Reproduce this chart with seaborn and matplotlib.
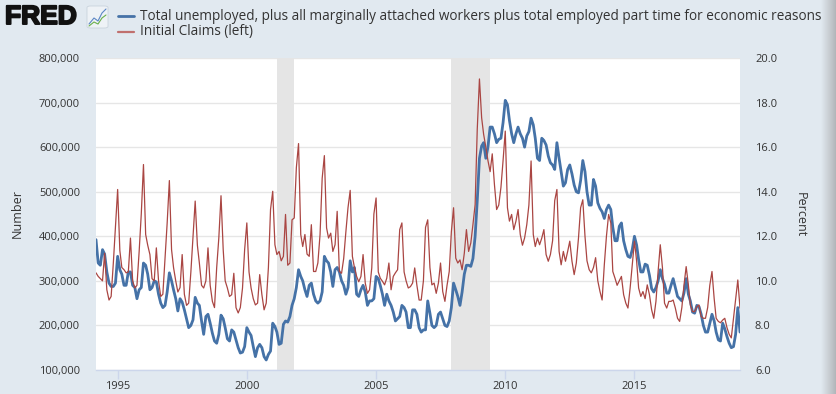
import numpy as np
import pandas as pd
import matplotlib
matplotlib.use("Agg")
import matplotlib.pyplot as plt
import matplotlib.patheffects as pe
from matplotlib.lines import Line2D
from matplotlib.patches import FancyBboxPatch
from matplotlib.ticker import FuncFormatter, MultipleLocator
from matplotlib.colors import LinearSegmentedColormap
import seaborn as sns

# monthly data, first month = March 1994
start_month = "1994-03-01"

# Initial claims, monthly, thousands (left axis)
claims_k = [
    318, 310, 305, 300, 362, 280, 257, 265, 340, 420,
    505, 368, 330, 325, 318, 320, 396, 300, 284, 290, 366, 450,
    561, 404, 380, 359, 305, 300, 374, 300, 265, 270, 350, 430,
    525, 370, 330, 300, 275, 285, 359, 270, 245, 250, 320, 400,
    479, 380, 340, 290, 284, 300, 374, 290, 254, 240, 330, 396,
    491, 370, 300, 284, 265, 269, 317, 240, 228, 240, 284, 370,
    430, 320, 284, 260, 246, 250, 314, 269, 235, 250, 330, 460,
    501, 381, 359, 366, 345, 355, 449, 335, 340, 437, 441, 554,
    608, 404, 377, 404, 360, 355, 426, 321, 321, 340, 404, 530,
    581, 419, 396, 407, 366, 381, 456, 321, 317, 350, 410, 464,
    503, 355, 330, 310, 298, 310, 359, 295, 272, 280, 329, 450,
    486, 320, 306, 299, 291, 306, 340, 280, 310, 318, 325, 415,
    430, 320, 300, 284, 287, 295, 329, 290, 257, 257, 300, 420,
    437, 330, 291, 295, 272, 295, 340, 276, 254, 290, 321, 410,
    464, 351, 340, 347, 325, 362, 415, 366, 385, 426, 471, 640,
    753, 666, 629, 600, 570, 545, 585, 516, 460, 470, 510, 570,
    636, 464, 434, 449, 415, 434, 460, 404, 380, 396, 426, 470,
    569, 404, 377, 396, 381, 396, 415, 359, 344, 359, 390, 480,
    505, 366, 336, 366, 344, 366, 389, 344, 314, 340, 396, 464,
    482, 400, 345, 325, 318, 330, 352, 300, 276, 257, 336, 400,
    449, 430, 321, 306, 290, 300, 310, 269, 250, 239, 284, 336,
    389, 344, 284, 265, 276, 260, 291, 269, 235, 216, 254, 320,
    381, 329, 250, 239, 254, 254, 257, 239, 216, 209, 240, 290,
    332, 291, 246, 231, 231, 242, 246, 220, 216, 216, 240, 290,
    321, 260, 216, 209, 206, 212, 216, 195, 180, 172, 216, 257,
    302, 239,
]

# U-6 rate, not seasonally adjusted, percent (right axis)
u6_pct = [
    11.85, 10.8, 10.7, 11.4, 11.2, 10.4, 9.9, 9.75, 9.75, 9.9,
    11.1, 10.5, 10.3, 9.8, 9.8, 10.4, 10.4, 9.8, 9.7, 9.2, 9.6, 9.7,
    10.8, 10.7, 10.3, 9.6, 9.7, 10.0, 9.95, 9.4, 9.0, 8.8, 8.9, 9.5,
    10.36, 10.0, 9.6, 9.2, 8.65, 9.2, 9.05, 8.7, 8.3, 7.9, 8.0, 8.25,
    9.26, 9.0, 8.9, 8.2, 7.6, 8.4, 8.5, 8.1, 7.65, 7.3, 7.2, 7.6,
    8.46, 8.3, 7.9, 7.4, 7.3, 7.8, 7.7, 7.35, 7.0, 6.76, 6.8, 7.05,
    7.9, 7.7, 7.55, 7.05, 6.6, 7.0, 7.15, 7.0, 6.6, 6.45, 6.7, 6.85,
    8.1, 7.95, 7.7, 7.15, 7.2, 8.05, 8.2, 8.15, 8.4, 8.9, 9.2, 9.7,
    10.5, 10.2, 10.0, 9.6, 9.3, 9.8, 9.9, 9.4, 9.1, 9.0, 9.1, 9.5,
    11.1, 10.9, 10.8, 10.4, 9.75, 10.5, 10.6, 10.4, 10.0, 9.8, 9.4, 9.7,
    10.9, 10.4, 10.6, 9.4, 9.3, 9.6, 9.8, 9.5, 8.9, 9.1, 9.1, 9.2,
    10.2, 10.1, 9.8, 9.4, 8.9, 9.4, 9.1, 8.9, 8.6, 8.2, 8.3, 8.4,
    8.9, 8.8, 8.6, 7.9, 7.9, 8.7, 8.7, 8.5, 7.9, 7.7, 7.8, 7.8,
    9.1, 8.55, 8.0, 7.9, 8.0, 8.5, 8.6, 8.3, 8.0, 7.95, 8.2, 8.8,
    9.9, 9.6, 9.3, 8.9, 9.5, 10.3, 10.7, 10.7, 10.65, 11.0, 12.0, 13.6,
    15.5, 16.05, 16.2, 15.5, 16.0, 16.9, 16.9, 16.6, 16.2, 16.35, 16.4, 17.1,
    18.1, 17.9, 17.2, 16.6, 16.2, 16.6, 16.9, 16.6, 16.4, 16.0, 16.5, 16.7,
    17.3, 17.0, 16.4, 15.5, 15.4, 16.4, 16.3, 16.1, 15.6, 15.3, 15.2, 15.0,
    16.2, 15.5, 14.9, 14.25, 14.4, 15.0, 15.2, 14.8, 14.3, 14.0, 13.95, 14.5,
    15.4, 14.9, 14.0, 13.4, 13.4, 14.55, 14.25, 13.5, 13.25, 13.1, 12.8, 13.2,
    13.4, 13.2, 12.4, 11.8, 11.8, 12.45, 12.6, 11.8, 11.4, 11.1, 11.05, 11.4,
    12.0, 11.6, 10.95, 10.4, 10.4, 10.75, 10.7, 10.25, 9.65, 9.5, 9.7, 10.0,
    10.5, 10.1, 9.85, 9.45, 9.45, 9.8, 10.1, 9.7, 9.3, 9.2, 9.1, 9.45,
    10.1, 9.4, 9.1, 8.6, 8.55, 8.9, 8.85, 8.5, 8.0, 7.7, 7.7, 8.1,
    8.5, 8.2, 7.7, 7.35, 7.3, 8.1, 7.85, 7.5, 7.2, 7.0, 7.05, 7.6,
    8.8, 7.7,
]

recessions = [("2001-03-01", "2001-11-01"), ("2007-12-01", "2009-06-01")]
year_ticks = [1995, 2000, 2005, 2010, 2015]
blue_label = ("Total unemployed, plus all marginally attached workers "
              "plus total employed part time for economic reasons")
red_label = "Initial Claims (left)"

W, H = 837, 394
BG = "#e1e9f0"
BLUE = "#4572a7"
RED = "#aa4643"
TXT = "#333333"


def fx(px):
    return px / W


def fy(py):
    return 1 - py / H


sns.set_theme(style="white")
plt.rcParams["font.family"] = ["Open Sans", "DejaVu Sans"]

dates = pd.date_range(start_month, periods=len(claims_k), freq="MS")
df = pd.DataFrame({"date": dates,
                   "claims": np.array(claims_k) * 1000,
                   "u6": u6_pct})

fig = plt.figure(figsize=(W / 100, H / 100), dpi=100, facecolor=BG)
ax = fig.add_axes([fx(96), fy(370), fx(740) - fx(96), fy(58) - fy(370)])
ax2 = ax.twinx()

# ax2 (percent) sits underneath: white area, grid, recessions, blue line
ax.set_zorder(2)
ax.patch.set_visible(False)
ax2.set_zorder(1)
ax2.patch.set_visible(True)
ax2.patch.set_facecolor("white")

for a, b in recessions:
    ax2.axvspan(pd.Timestamp(a), pd.Timestamp(b), color="#e5e5e5", lw=0, zorder=1)

sns.lineplot(data=df, x="date", y="u6", ax=ax2, color=BLUE, linewidth=2.0, zorder=3)
sns.lineplot(data=df, x="date", y="claims", ax=ax, color=RED, linewidth=0.9, zorder=3)

ax.set_xlim(dates[0], dates[-1])
ax.set_ylim(100000, 800000)
ax2.set_ylim(6, 20)
ax.yaxis.set_major_locator(MultipleLocator(100000))
ax2.yaxis.set_major_locator(MultipleLocator(2))
ax.yaxis.set_major_formatter(FuncFormatter(lambda v, p: f"{int(v):,}"))
ax2.yaxis.set_major_formatter(FuncFormatter(lambda v, p: f"{v:.1f}"))

ax2.set_axisbelow(True)
ax2.yaxis.grid(True, color="#e6e6e6", linewidth=1.0)
ax.grid(False)

ax.set_xticks([pd.Timestamp(f"{y}-01-01") for y in year_ticks])
ax.set_xticklabels([str(y) for y in year_ticks])

ax.set_xlabel("")
ax.set_ylabel("")
ax2.set_ylabel("")

for s in ["top", "left", "right"]:
    ax.spines[s].set_visible(False)
for s in ax2.spines.values():
    s.set_visible(False)
ax.spines["bottom"].set_color("#ccd6eb")
ax.spines["bottom"].set_linewidth(1.0)

ax.tick_params(axis="x", direction="out", length=6.5, width=1, color="#ccd6eb",
               labelsize=8, labelcolor=TXT, pad=1.5, bottom=True)
ax.tick_params(axis="y", length=0, labelsize=8, labelcolor=TXT, pad=11.5)
ax2.tick_params(axis="y", length=0, labelsize=8, labelcolor=TXT, pad=10.8)

fig.text(fx(17), fy(213), "Number", rotation=90, ha="center", va="center",
         fontsize=9, color=TXT)
fig.text(fx(800), fy(215), "Percent", rotation=270, ha="center", va="center",
         fontsize=9, color=TXT)

# legend at the top
fig.add_artist(Line2D([fx(118), fx(134)], [fy(16), fy(16)], color=BLUE, lw=2.0))
fig.add_artist(Line2D([fx(118), fx(134)], [fy(32), fy(32)], color="#c0706e", lw=1.6))
fig.text(fx(140), fy(16), blue_label, ha="left", va="center", fontsize=9.8, color=TXT)
fig.text(fx(140), fy(32), red_label, ha="left", va="center", fontsize=9.8, color=TXT)

# FRED logo
fig.text(fx(5), fy(17), "FRED", ha="left", va="center", fontsize=19,
         fontweight="bold", family="Liberation Sans", color="#111111",
         path_effects=[pe.withStroke(linewidth=1.4, foreground="#111111")])
fig.add_artist(FancyBboxPatch((fx(87), fy(28)), fx(21), fy(6) - fy(28),
                              boxstyle="round,pad=0.0,rounding_size=0.004",
                              facecolor="#eef2f6", edgecolor="#c9d3dc", lw=0.6))
fig.add_artist(Line2D([fx(89), fx(94), fx(98), fx(102), fx(106)],
                      [fy(24), fy(18), fy(21), fy(13), fy(9)], color="#5b86c5", lw=0.8))
fig.add_artist(Line2D([fx(89), fx(94), fx(98), fx(102), fx(106)],
                      [fy(26), fy(22), fy(24), fy(18), fy(15)], color="#6ab04c", lw=0.8))

# shadow strip on the right edge
sh = fig.add_axes([fx(821), 0, fx(837) - fx(821), 1])
grad = np.linspace(0, 1, 64).reshape(1, -1)
cmap = LinearSegmentedColormap.from_list("edge", [BG, "#c9ced3", "#aeb2b6"])
sh.imshow(grad, aspect="auto", cmap=cmap, extent=[0, 1, 0, 1])
sh.axis("off")

fig.savefig("out.png", dpi=100, facecolor=BG)
